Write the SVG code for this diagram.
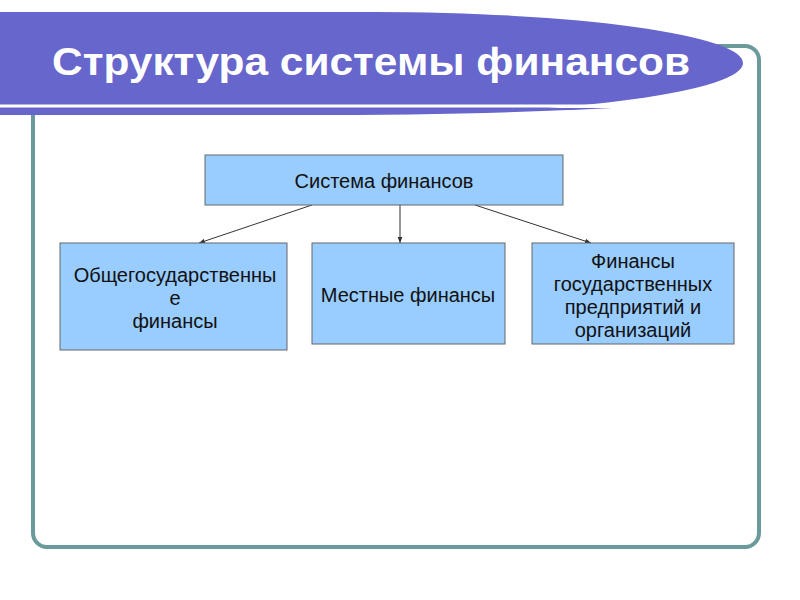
<svg xmlns="http://www.w3.org/2000/svg" width="800" height="600" viewBox="0 0 800 600">
<defs>
<style>
.box{fill:#99ccff;stroke:#666666;stroke-width:1}
.t{font-family:"Liberation Sans",Arial,sans-serif;font-size:20px;fill:#111;text-anchor:middle}
.c{stroke:#333;stroke-width:1;fill:none;marker-end:url(#ah)}
</style>
<marker id="ah" viewBox="0 0 10 10" refX="10" refY="5" markerWidth="6" markerHeight="6" orient="auto" markerUnits="userSpaceOnUse">
<path d="M0,1 L10,5 L0,9 z" fill="#333"/>
</marker>
</defs>
<rect width="800" height="600" fill="#ffffff"/>
<rect id="frame" x="33" y="46" width="726" height="501" rx="14" ry="14" fill="none" stroke="#6a9a9a" stroke-width="4"/>
<g id="title">
<path d="M0,12 H373 A370,51 0 0 1 373,114 H0 Z" fill="#6666cc"/>
<line x1="0" y1="106" x2="600" y2="106" stroke="#ffffff" stroke-width="3"/>
<path d="M0,108 L612,108 Q480,115 300,115 L0,115 Z" fill="#6666cc"/>
<text x="52" y="75" font-family="'Liberation Sans',Arial,sans-serif" font-size="39" font-weight="bold" fill="#ffffff" textLength="638" lengthAdjust="spacingAndGlyphs">Структура системы финансов</text>
</g>
<g id="connectors">
<line class="c" x1="312" y1="205" x2="199" y2="243"/>
<line class="c" x1="400" y1="205" x2="400" y2="243"/>
<line class="c" x1="475" y1="205" x2="591" y2="243"/>
</g>
<g id="n-system">
<rect class="box" x="205" y="155" width="358" height="50"/>
<text class="t" x="384" y="188">Система финансов</text>
</g>
<g id="n-general">
<rect class="box" x="60" y="243" width="227" height="107"/>
<text class="t" x="175" y="282">Общегосударственны</text>
<text class="t" x="175" y="305">е</text>
<text class="t" x="175" y="328">финансы</text>
</g>
<g id="n-local">
<rect class="box" x="312" y="243" width="193" height="101"/>
<text class="t" x="408" y="302">Местные финансы</text>
</g>
<g id="n-enterprises">
<rect class="box" x="532" y="243" width="202" height="101"/>
<text class="t" x="633" y="268">Финансы</text>
<text class="t" x="633" y="291">государственных</text>
<text class="t" x="633" y="314">предприятий и</text>
<text class="t" x="633" y="337">организаций</text>
</g>
</svg>
